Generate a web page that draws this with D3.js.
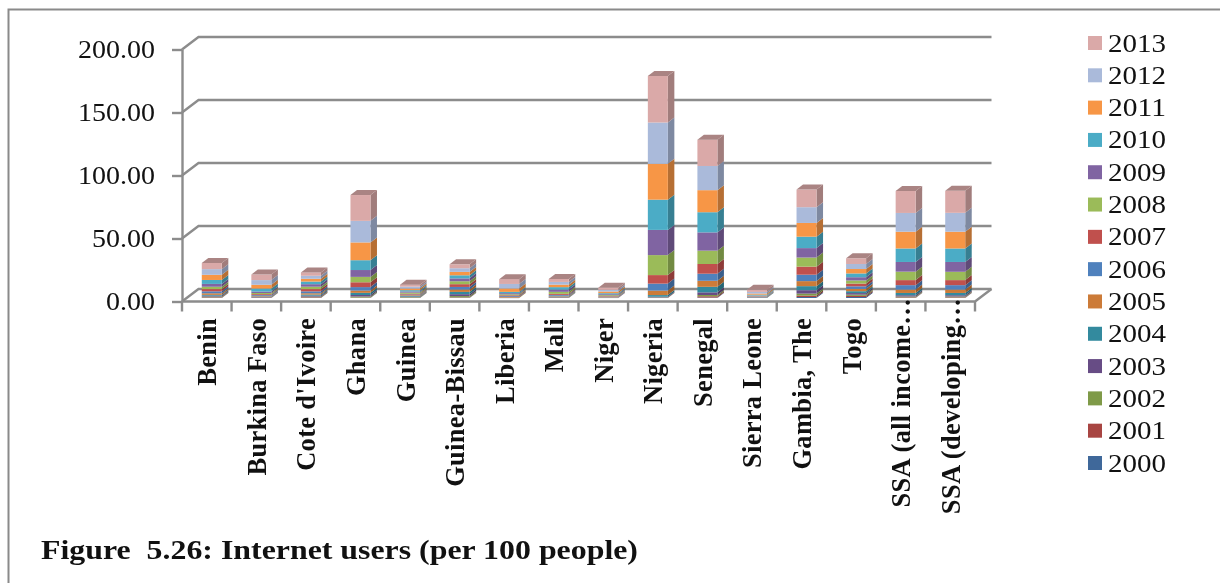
<!DOCTYPE html>
<html><head><meta charset="utf-8">
<style>html,body{margin:0;padding:0;background:#fff}svg{display:block;filter:blur(0.45px)}</style>
<script src="https://cdn.jsdelivr.net/npm/d3@7"></script></head>
<body><svg id="c" width="1220" height="583"></svg>
<script>
const categories=["Benin","Burkina Faso","Cote d'Ivoire","Ghana","Guinea","Guinea-Bissau","Liberia","Mali","Niger","Nigeria","Senegal","Sierra Leone","Gambia, The","Togo","SSA (all income…","SSA (developing…"];
const years=[2000,2001,2002,2003,2004,2005,2006,2007,2008,2009,2010,2011,2012,2013];
const colors=["#3F689A","#A84542","#7F9A48","#674C85","#338A9E","#CC7B38","#4F81BD","#C0504D","#9BBB59","#8064A2","#4BACC6","#F79646","#AABADA","#DAA9A8"];
const benin=[.23,.36,.6,.7,.6,1.27,1.54,1.79,1.85,2.24,3.13,4.1,4.5,4.9];
const burkina=[.08,.16,.2,.37,.4,.47,.63,.75,.92,1.13,2.4,3,3.7,4.4];
const coteDIvoire=[.23,.4,.5,.76,.84,1.04,1.5,1.8,1.9,2,2.1,2.2,2.4,2.6];
const ghana=[.15,.2,.83,1.19,1.72,1.83,2.72,3.85,4.27,5.44,7.8,14.11,17.11,20.5];
const guinea=[.1,.2,.4,.46,.51,.54,.5,.64,.92,.94,1,1.3,1.5,1.6];
const guineaBissau=[.23,.3,1,1.5,1.8,1.9,2.05,2.2,2.3,2.3,2.45,2.7,2.9,3.1];
const liberia=[.02,.03,.05,.05,.1,.5,.7,.7,.8,.9,1,2.7,3.6,3.8];
const mali=[.14,.18,.23,.31,.4,.5,.73,.81,1.6,1.8,1.9,2,2.17,2.3];
const niger=[.04,.11,.13,.16,.19,.22,.3,.39,.7,.76,.83,1.3,1.4,1.7];
const nigeria=[.06,.09,.32,.56,1.29,3.55,5.55,6.77,15.86,20,24,28.43,32.8,37];
const senegal=[.4,.98,1.01,2.1,4.39,4.79,5.61,7.7,10.6,14.5,16,17.5,19.2,20.9];
const sierraLeone=[.12,.16,.18,.2,.2,.22,.23,.24,.25,.26,.58,.9,1.3,1.7];
const gambia=[.8,1.1,1.6,2.7,3.2,4,5.1,6.4,7.2,7.5,9.07,10.9,12.5,14];
const togo=[.8,.9,1,1.2,1.5,1.85,2,2.2,2.45,2.6,3,3.5,4,4.5];
const ssaAll=[.2,.4,.6,1,1.8,2.7,3.5,4,6.7,7.7,10.7,13.3,14.9,17.5];
const ssaDev=[.2,.4,.6,1,1.8,2.7,3.5,4,6.6,7.8,10.7,13.3,15,17.5];
const rows=[benin,burkina,coteDIvoire,ghana,guinea,guineaBissau,liberia,mali,niger,nigeria,senegal,sierraLeone,gambia,togo,ssaAll,ssaDev];
const yTicks=[0,50,100,150,200];
const caption="Figure  5.26: Internet users (per 100 people)";

const serif='"Liberation Serif",serif';
const GRID="#8c8c8c";
const svg=d3.select("#c");
svg.append("path").attr("d","M8.5,583V9.5H1220").attr("fill","none").attr("stroke","#8a8a8a").attr("stroke-width",2);

const x=d3.scaleBand().domain(categories).range([182,975]);
const y=d3.scaleLinear().domain([0,200]).range([301.5,49.5]);
const wallDx=16.5,wallDy=-12.5;
const barW=20,barDx=6.5,barDy=-5, barShiftX=5,barShiftY=-3.5;

const grid=svg.append("g").attr("fill","none").attr("stroke",GRID).attr("stroke-width",2.4);
yTicks.forEach(t=>{
  grid.append("path").attr("d",`M${x.range()[0]},${y(t)}L${x.range()[0]+wallDx},${y(t)+wallDy}H${x.range()[1]+wallDx}`);
});
grid.append("path").attr("d",`M${x.range()[0]},${y(0)}H${x.range()[1]}L${x.range()[1]+wallDx},${y(0)+wallDy}`);

const ax=svg.append("g").attr("transform",`translate(${x.range()[0]},0)`)
  .call(d3.axisLeft(y).tickValues(yTicks).tickFormat(d3.format(".2f")).tickSize(10).tickPadding(17).tickSizeOuter(0));
ax.selectAll("path,line").attr("stroke",GRID).attr("stroke-width",2.4);
ax.selectAll("text").attr("font-family",serif).attr("font-size",25.5).attr("fill","#111")
  .attr("textLength",d=>d>=100?77:d>=50?63:49).attr("lengthAdjust","spacingAndGlyphs");

const bx=svg.append("g").attr("transform",`translate(0,${y(0)})`);
const edges=d3.range(categories.length+1).map(i=>x.range()[0]+i*x.bandwidth());
edges.forEach(e=>bx.append("line").attr("x1",e).attr("x2",e).attr("y1",0).attr("y2",10).attr("stroke",GRID).attr("stroke-width",2.4));

const shade=(c,k)=>d3.rgb(c).darker(k).formatHex();
rows.forEach((vals,ci)=>{
  const cat=categories[ci];
  const x0=x(cat)+x.bandwidth()/2-barW/2+barShiftX;
  const g=svg.append("g");
  let cum=0;
  vals.forEach((v,i)=>{
    const yb=y(cum)+barShiftY, yt=y(cum+v)+barShiftY;
    cum+=v;
    g.append("path").attr("d",`M${x0+barW},${yb}L${x0+barW+barDx},${yb+barDy}V${yt+barDy}L${x0+barW},${yt}Z`).attr("fill",shade(colors[i],.85));
    g.append("rect").attr("x",x0).attr("y",yt).attr("width",barW).attr("height",Math.max(yb-yt,.1)).attr("fill",colors[i]);
    if(i===vals.length-1) g.append("path").attr("d",`M${x0},${yt}L${x0+barDx},${yt+barDy}H${x0+barW+barDx}L${x0+barW},${yt}Z`).attr("fill",shade(colors[i],.7));
  });
});

svg.append("g").selectAll("text").data(categories).join("text")
  .attr("transform",d=>`translate(${x(d)+x.bandwidth()/2+9.5},${d.endsWith("…")?298:318}) rotate(-90)`)
  .attr("text-anchor","end").attr("font-family",serif).attr("font-weight","bold").attr("font-size",26.5).attr("letter-spacing",.3).attr("fill","#111")
  .text(d=>d);

const leg=d3.scalePoint().domain(years.slice().reverse()).range([43,463]);
const lg=svg.append("g").selectAll("g").data(years).join("g").attr("transform",d=>`translate(1088,${leg(d)})`);
lg.append("rect").attr("x",0).attr("y",-7).attr("width",14).attr("height",14).attr("fill",(d,i)=>colors[i]);
lg.append("text").attr("x",20).attr("y",8.5).attr("font-family",serif).attr("font-size",25).attr("textLength",58).attr("lengthAdjust","spacingAndGlyphs").attr("fill","#111").text(d=>d);

svg.append("text").attr("x",41).attr("y",559).attr("font-family",serif).attr("font-weight","bold").attr("font-size",26.5).attr("fill","#111")
  .attr("textLength",597).attr("lengthAdjust","spacingAndGlyphs").attr("xml:space","preserve").style("white-space","pre").text(caption);
</script></body></html>
